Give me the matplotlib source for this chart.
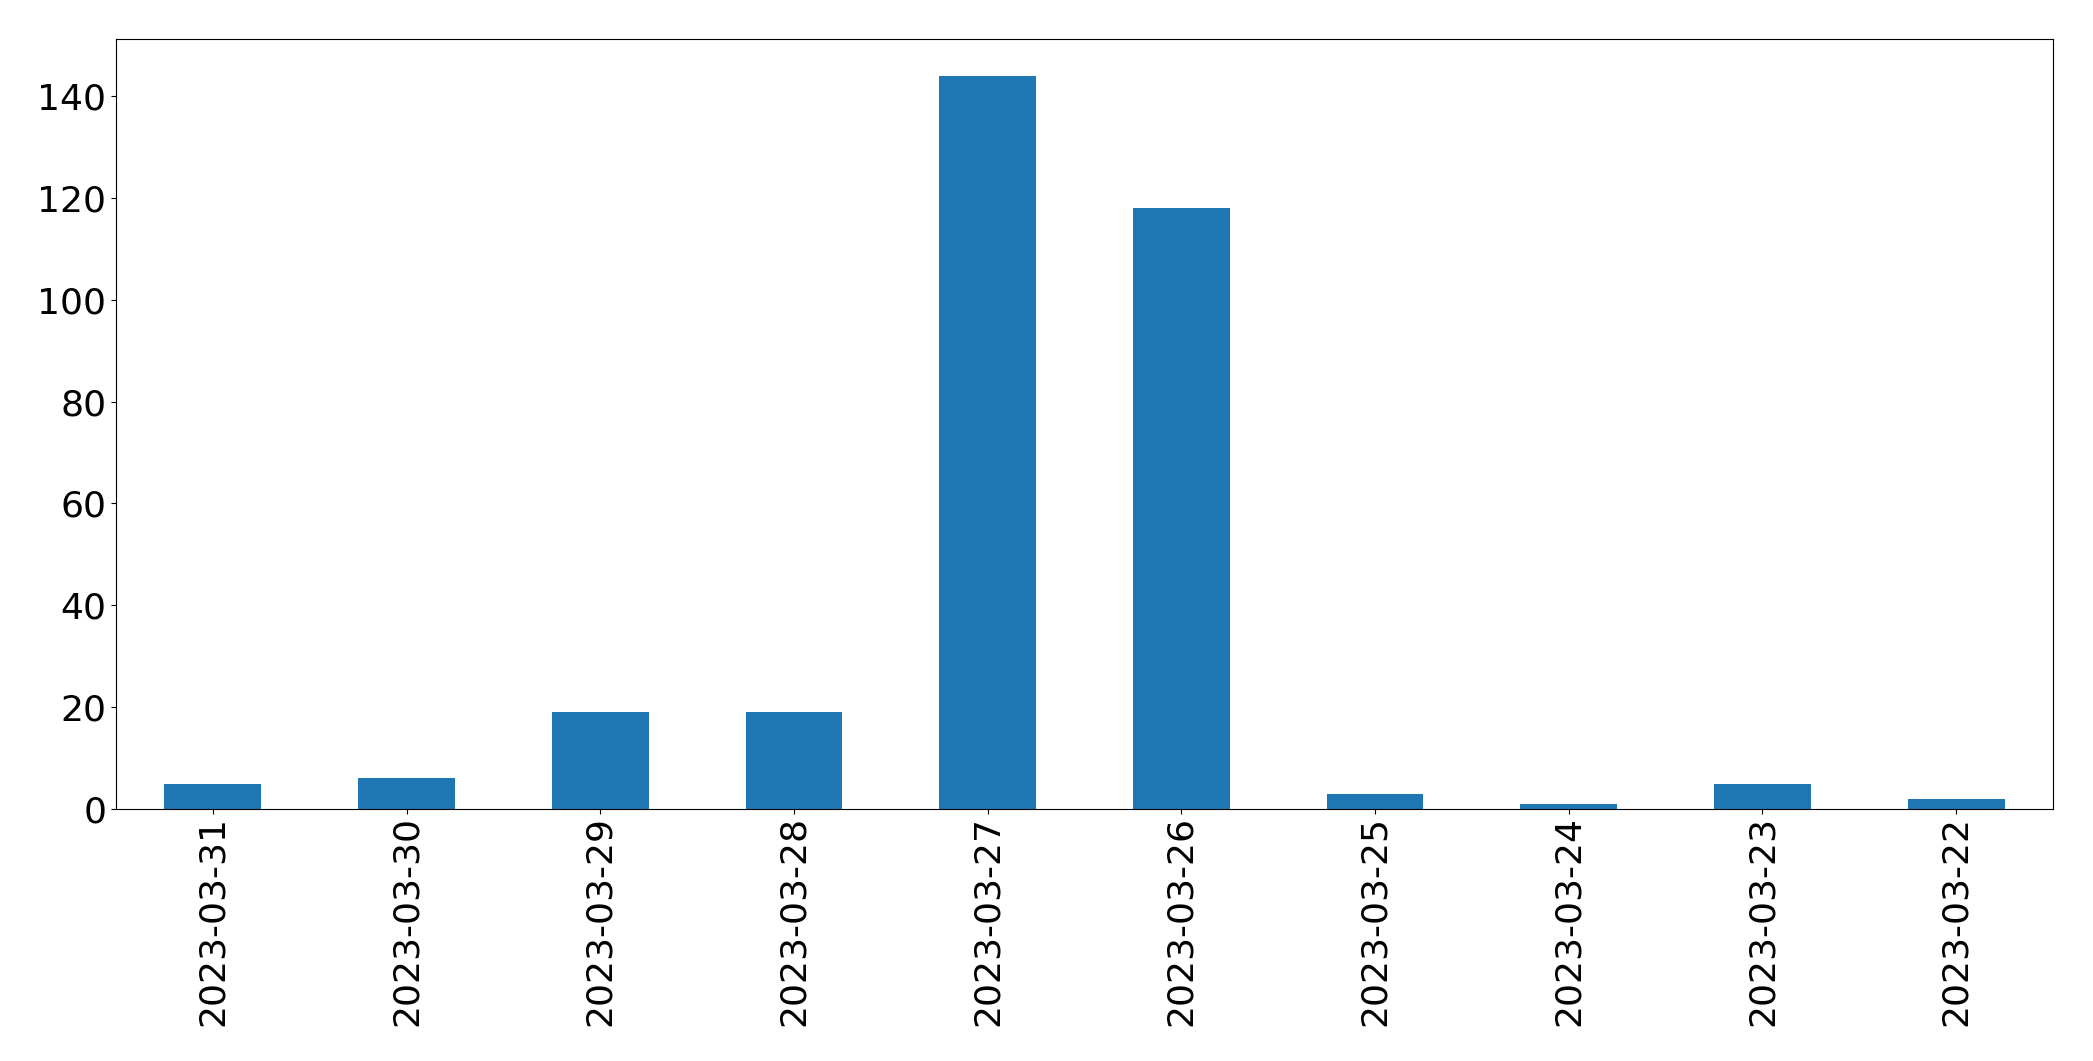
import matplotlib
matplotlib.use("Agg")
import matplotlib.pyplot as plt

dates = ["2023-03-31", "2023-03-30", "2023-03-29", "2023-03-28", "2023-03-27",
         "2023-03-26", "2023-03-25", "2023-03-24", "2023-03-23", "2023-03-22"]
counts = [5, 6, 19, 19, 144, 118, 3, 1, 5, 2]

fig = plt.figure(figsize=(20.93, 10.61), dpi=100)
ax = fig.add_axes([116/2093, 1 - 809/1061, (2053-116)/2093, (809-39)/1061])
x = list(range(len(dates)))
ax.bar(x, counts, width=0.5, color="#1f77b4")
ax.set_xlim(-0.5, len(dates) - 0.5)
ax.set_ylim(0, max(counts) * 1.05)
ax.set_xticks(x)
ax.set_xticklabels(dates, rotation=90)
ax.tick_params(labelsize=26)
ax.tick_params(axis="x", pad=1.5)
fig.savefig("out.png", dpi=100)
